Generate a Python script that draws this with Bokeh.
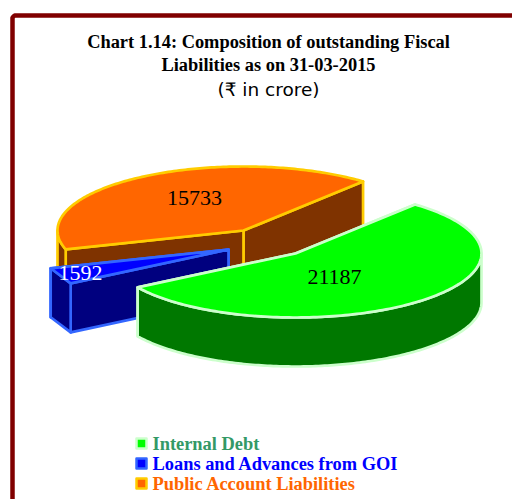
import numpy as np
from bokeh.plotting import figure
from bokeh.models import Range1d
from bokeh.core.properties import value
from bokeh.embed import file_html
from bokeh.resources import INLINE

# data
categories = ["Internal Debt", "Loans and Advances from GOI", "Public Account Liabilities"]
values = [21187, 1592, 15733]
title_lines = ["Chart 1.14: Composition of outstanding Fiscal", "Liabilities as on 31-03-2015"]
unit_line = "(\u20b9 in crore)"

# styles
top_colors = ["#00FF00", "#0000FF", "#FF6600"]
side_colors = ["#007800", "#00007F", "#7F3300"]
edge_colors = ["#CCFFCC", "#3366FF", "#FFCC00"]
legend_text_colors = ["#339966", "#0000FF", "#FF6600"]
label_colors = ["#000000", "#FFFFFF", "#000000"]

# layout (pixels)
W, H = 512, 499
apex = [(295.0, 253.0), (228.0, 249.0), (243.0, 230.0)]
label_offset = [(39, 23), (-148, 23), (-49, -33)]
arc_steps = [160, 2, 160]
a, b, depth = 186.0, 64.0, 49.0
start_deg = -50.0

p = figure(width=W, height=H, x_range=Range1d(0, W), y_range=Range1d(H, 0),
           output_backend="svg", toolbar_location=None, min_border=0,
           outline_line_color=None, background_fill_color="white", border_fill_color="white")
p.axis.visible = False
p.grid.visible = False

# frame
p.line([12, 12, 14, W + 5], [H + 5, 17, 15, 15], line_color="#800000", line_width=4.5)

total = sum(values)
sweeps = [v / total * 360.0 for v in values]
starts = start_deg + np.concatenate([[0.0], np.cumsum(sweeps)[:-1]])


def arc_pts(cx, cy, t0, t1, n=160):
    t = np.radians(np.linspace(t0, t1, n))
    return cx + a * np.cos(t), cy + b * np.sin(t)


def draw_slice(i):
    cx, cy = apex[i]
    t0, t1 = starts[i], starts[i] + sweeps[i]
    n = arc_steps[i]
    fc, sc, ec = top_colors[i], side_colors[i], edge_colors[i]
    style = dict(line_color=ec, line_width=2.7, line_join="round")
    # radial walls, farther one first
    for t in sorted((t0, t1), key=lambda d: np.sin(np.radians(d))):
        ex, ey = arc_pts(cx, cy, t, t, 1)
        p.patch([cx, ex[0], ex[0], cx], [cy, ey[0], ey[0] + depth, cy + depth], fill_color=sc, **style)
    # outer wall, front-facing parts only
    lo, hi = max(t0, 0.0), min(t1, 180.0)
    if hi > lo:
        x, y = arc_pts(cx, cy, lo, hi, n)
        p.patch(np.r_[x, x[::-1]], np.r_[y, y[::-1] + depth], fill_color=sc, **style)
    # top
    x, y = arc_pts(cx, cy, t0, t1, n)
    p.patch(np.r_[cx, x], np.r_[cy, y], fill_color=fc, **style)


for i in (2, 1, 0):
    draw_slice(i)

# value labels
for i in range(3):
    p.text([apex[i][0] + label_offset[i][0]], [apex[i][1] + label_offset[i][1]], text=[str(values[i])],
           text_font=value("Liberation Serif"), text_font_size="22px", text_color=label_colors[i],
           text_align="center", text_baseline="middle")

# titles
for line, y in zip(title_lines, (41, 64)):
    p.text([268], [y], text=[line], text_font=value("Liberation Serif"), text_font_style="bold",
           text_font_size="18.4px", text_color="#000000", text_align="center", text_baseline="middle")
p.text([268], [89], text=[unit_line], text_font=value("DejaVu Sans"), text_font_size="18.5px",
       text_color="#000000", text_align="center", text_baseline="middle")

# legend
for i, y in enumerate((443, 463, 483)):
    p.quad(left=[136], right=[146], top=[y - 5], bottom=[y + 5], fill_color=top_colors[i],
           line_color=edge_colors[i], line_width=2.5, line_join="round")
    p.text([152], [y], text=[categories[i]], text_font=value("Liberation Serif"), text_font_style="bold",
           text_font_size="18.4px", text_color=legend_text_colors[i], text_align="left", text_baseline="middle")

open("out.html", "w").write(file_html(p, INLINE))
